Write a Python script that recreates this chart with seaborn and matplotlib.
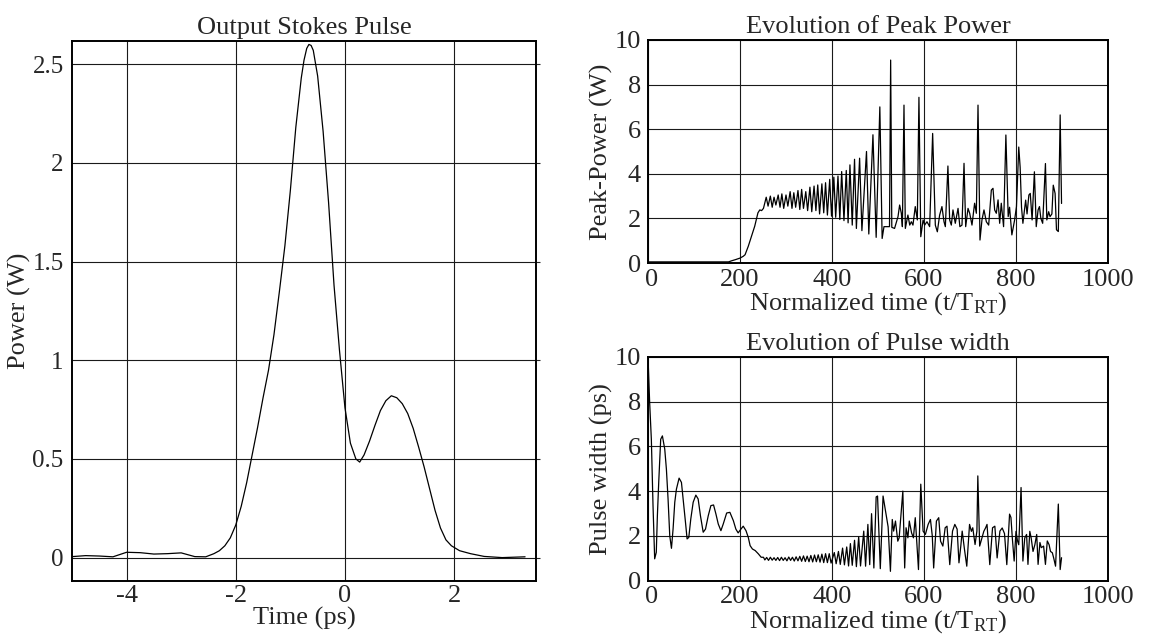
import numpy as np
import pandas as pd
import matplotlib
matplotlib.use("Agg")
import matplotlib.pyplot as plt
import matplotlib.transforms as mtransforms
import seaborn as sns

# ---------------- data ----------------
# Output Stokes pulse (time in ps, power in W)
pulse_t = [-5.0, -4.75, -4.5, -4.25, -4.0, -3.75, -3.5, -3.25, -3.0, -2.75,
           -2.55, -2.4, -2.3, -2.2, -2.1, -2.0, -1.9, -1.8, -1.7, -1.6,
           -1.5, -1.4, -1.3, -1.2, -1.1, -1.0, -0.9, -0.8, -0.75, -0.7,
           -0.66, -0.62, -0.58, -0.5, -0.4, -0.3, -0.2, -0.1, 0.0, 0.1,
           0.2, 0.27, 0.35, 0.45, 0.55, 0.65, 0.75, 0.85, 0.95, 1.05,
           1.15, 1.25, 1.35, 1.45, 1.55, 1.65, 1.75, 1.85, 1.95, 2.1,
           2.3, 2.55, 2.88, 3.3]
pulse_p = [0.005, 0.01, 0.008, 0.004, 0.027, 0.025, 0.018, 0.02, 0.024, 0.005,
           0.004, 0.02, 0.035, 0.06, 0.10, 0.165, 0.26, 0.38, 0.52, 0.66,
           0.81, 0.95, 1.13, 1.35, 1.58, 1.86, 2.18, 2.43, 2.52, 2.58,
           2.60, 2.595, 2.57, 2.44, 2.16, 1.80, 1.38, 1.05, 0.76, 0.58,
           0.50, 0.484, 0.52, 0.59, 0.67, 0.745, 0.795, 0.82, 0.81, 0.78,
           0.73, 0.655, 0.56, 0.46, 0.35, 0.24, 0.15, 0.09, 0.06, 0.035,
           0.02, 0.006, 0.0, 0.004]

# Evolution of peak power (normalized time, W)
peak_t = [0, 175, 182, 190, 200, 207, 211, 218, 225, 232, 239, 243, 247, 251,
          257, 261, 266, 270, 274, 278, 283, 287, 291, 295, 300, 304, 309, 313,
          317, 321, 326, 330, 334, 338, 343, 347, 352, 356, 361, 365, 369, 373,
          378, 382, 386, 390, 395, 399, 404, 408, 413, 417, 421, 426, 431, 435,
          439, 444, 449, 453, 460, 465, 475, 480, 489, 496, 504, 509, 513, 525,
          527.5, 530, 536, 543.5, 547, 550.7, 553, 556.5, 559.4, 565, 569, 572.5,
          576, 581, 585.5, 589, 593, 598, 601.4, 606.5, 612.3, 618.8, 624.6, 629,
          634, 639, 643.5, 646.4, 652, 655.8, 659.4, 663, 668, 674, 678, 682.6,
          687, 690.6, 695.7, 699.3, 704.3, 710, 713.8, 717.4, 721.7, 726, 730.4,
          735.5, 740.6, 746.4, 750, 753.6, 757.2, 761, 764.5, 768, 773, 778,
          783, 786, 791, 797, 801, 806, 809, 812, 815, 821, 824, 828, 831, 835,
          840, 844, 848, 851, 854, 858, 864, 867, 871, 874, 878, 881, 885, 888,
          892, 896, 899]
peak_p = [0.05, 0.05, 0.1, 0.15, 0.22, 0.3, 0.37, 0.75, 1.2, 1.65, 2.25, 2.38, 2.35, 2.45,
          2.95, 2.55, 3.0, 2.5, 2.95, 2.6, 3.05, 2.5, 3.1, 2.45, 3.05, 2.55, 3.2, 2.45,
          3.15, 2.5, 3.25, 2.4, 3.3, 2.45, 3.2, 2.35, 3.4, 2.3, 3.45, 2.35, 3.5, 2.2,
          3.55, 2.25, 3.6, 2.15, 3.75, 2.1, 3.85, 2.05, 3.9, 1.95, 4.1, 1.9, 4.15, 1.8,
          4.4, 1.7, 4.65, 1.55, 4.7, 1.45, 5.0, 1.3, 5.75, 1.15, 7.0, 1.1, 1.63, 1.63,
          9.1, 1.6, 1.55, 2.08, 2.6, 2.23, 1.63, 7.08, 1.55, 2.15, 1.7, 1.85,
          1.7, 2.53, 1.93, 7.43, 1.18, 1.93, 1.7, 1.85, 1.63, 5.81, 1.7, 1.4,
          2.15, 2.53, 1.85, 1.63, 4.35, 1.93, 1.7, 2.38, 1.78, 2.45, 1.63, 1.7,
          4.47, 1.63, 2.45, 2.23, 1.7, 2.68, 2.23, 7.08, 1.03, 1.93, 2.38,
          1.85, 1.7, 3.27, 3.35, 2.38, 2.23, 2.83, 1.78, 2.68, 1.63, 5.74,
          2.08, 2.5, 1.26, 1.93, 2.53, 5.2, 4.3, 2.5, 1.78, 2.82, 2.2, 3.05, 3.12, 1.93,
          4.09, 1.63, 2.38, 2.53, 2.0, 1.78, 4.46, 1.93, 2.3, 2.08, 2.2, 3.49, 3.12, 1.49,
          1.41, 6.64, 2.67]

# Evolution of pulse width (normalized time, ps)
width_t = [0, 3.6, 7.3, 10.9, 14.5, 18, 20.4, 23.3, 27.6, 31.3, 36.4, 40, 43.6, 47.3,
           51, 54.5, 58.2, 61.8, 67.6, 72.7, 76.4, 81.5, 85, 88.7, 93, 98.2, 104, 109,
           114, 120, 125, 131, 136.7, 142.5, 147.6, 152.7, 158.5, 163.6, 171, 178,
           185.5, 191, 196, 202, 207, 213, 218, 222, 227, 233, 240, 246, 251,
           254, 258, 262, 266, 270, 274, 278, 282, 286, 290, 294, 298, 302, 306,
           310, 314, 318, 322, 326, 330, 334, 338, 342, 346, 350, 354, 358, 362,
           366, 370, 374, 378, 382, 386, 390, 394, 398,
           405, 409, 414, 418, 423, 427, 432, 436, 440, 444, 449, 453, 458, 462,
           469, 473, 478, 482, 486, 491, 496, 499, 505, 511, 514, 518, 522, 527,
           531, 534, 538, 543, 546, 554, 558, 561, 565, 568, 573, 577, 581, 588,
           593, 598, 603, 609, 614, 618, 621, 627, 632, 636, 641, 646, 650, 656,
           662, 667, 672, 676, 680, 683, 688, 693, 699, 703, 706, 711, 715, 717,
           721, 725, 730, 734, 737, 743, 749, 754, 759, 765, 770, 775, 780, 786,
           789, 792, 796, 800, 803, 806, 811, 815, 819, 823, 826, 830, 833, 837,
           841, 845, 848, 852, 855, 860, 864, 868, 872, 875, 879, 882, 886, 892,
           896, 899]
width_p = [10.0, 7.96, 6.3, 3.35, 0.97, 1.26, 2.9, 4.39, 6.32, 6.47, 5.88, 4.98, 3.65, 2.0,
           1.44, 2.3, 3.5, 4.09, 4.58, 4.39, 3.65, 2.6, 1.86, 1.93, 2.75, 3.5, 3.82, 3.65,
           2.9, 2.16, 2.3, 2.9, 3.35, 3.38, 2.98, 2.53, 2.23, 2.53, 3.02, 3.05,
           2.68, 2.3, 2.13, 2.3, 2.43, 2.23, 1.93, 1.56, 1.41, 1.34, 1.19, 1.04, 1.04,
           0.92, 1.03, 0.9, 1.04, 0.91, 1.02, 0.9, 1.03, 0.89, 1.04, 0.9, 1.02, 0.88, 1.05,
           0.9, 1.04, 0.87, 1.06, 0.88, 1.08, 0.86, 1.1, 0.85, 1.09, 0.84, 1.12, 0.83, 1.14,
           0.84, 1.15, 0.82, 1.18, 0.8, 1.2, 0.8, 1.2, 0.78,
           1.25, 0.75, 1.3, 0.72, 1.45, 0.7, 1.5, 0.65, 1.65, 0.68, 1.8, 0.62, 1.95, 0.65,
           2.21, 0.64, 2.51, 0.71, 2.99, 0.56, 3.74, 3.78, 0.53, 3.78, 3.4, 2.9, 2.4, 0.41,
           2.73, 2.21, 2.66, 1.76, 1.91, 4.0, 0.56, 2.36, 1.91, 2.66, 2.13, 1.91, 2.81, 0.49,
           4.31, 2.21, 2.06, 2.51, 2.73, 2.0, 0.56, 2.66, 2.81, 1.76, 1.54, 2.36, 2.43, 0.71,
           2.21, 2.51, 2.3, 0.79, 1.54, 2.21, 1.39, 0.64, 2.51, 2.2, 2.36, 1.61, 2.21, 4.68,
           1.54, 1.84, 2.2, 2.36, 2.51, 0.71, 2.36, 2.43, 1.01, 2.21, 2.35, 2.1, 0.71, 2.97,
           2.82, 1.9, 0.87, 2.2, 1.8, 1.6, 4.16, 0.87, 1.9, 2.06, 0.72, 2.2, 1.9, 1.3,
           1.6, 2.06, 0.72, 1.7, 1.47, 1.54, 0.72, 1.77, 1.6, 1.3, 1.24, 1.0, 0.64, 3.42,
           0.49, 1.02]

pulse_df = pd.DataFrame({"t": pulse_t, "p": pulse_p})
peak_df = pd.DataFrame({"t": peak_t, "p": peak_p})
width_df = pd.DataFrame({"t": width_t, "p": width_p})

# ---------------- style ----------------
sns.set_style("white")
plt.rcParams["font.family"] = ["Liberation Serif", "DejaVu Serif"]
plt.rcParams["mathtext.fontset"] = "custom"
plt.rcParams["mathtext.rm"] = "Liberation Serif"
plt.rcParams["mathtext.it"] = "Liberation Serif:italic"

TICK_FS = 19
LABEL_FS = 19
TITLE_FS = 19
GRID_KW = dict(color="#1a1a1a", linewidth=0.8)

W, H = 1154, 643
fig = plt.figure(figsize=(W / 100, H / 100), dpi=100)


def box(x0, y0, x1, y1):
    return [x0 / W, 1 - y1 / H, (x1 - x0) / W, (y1 - y0) / H]


ax1 = fig.add_axes(box(72, 40.5, 536, 580.7))
ax2 = fig.add_axes(box(648, 40, 1108, 263))
ax3 = fig.add_axes(box(648, 357, 1108, 580.5))

sns.lineplot(data=pulse_df, x="t", y="p", ax=ax1, color="black", linewidth=0.9,
             estimator=None, sort=False)
sns.lineplot(data=peak_df, x="t", y="p", ax=ax2, color="black", linewidth=0.9,
             estimator=None, sort=False)
sns.lineplot(data=width_df, x="t", y="p", ax=ax3, color="black", linewidth=0.9,
             estimator=None, sort=False)

# left axes
ax1.set_xlim(-5, 3.5)
ax1.set_ylim(-0.117, 2.62)
ax1.set_xticks([-4, -2, 0, 2])
ax1.set_yticks([0, 0.5, 1, 1.5, 2, 2.5])
ax1.set_yticklabels(["0", "0.5", "1", "1.5", "2", "2.5"])
ax1.set_xticklabels(["-4", "-2", "0", "2"])
ax1.set_title("Output Stokes Pulse", fontsize=TITLE_FS, pad=5)
ax1.set_xlabel("Time (ps)", fontsize=LABEL_FS, labelpad=0)
ax1.set_ylabel("Power (W)", fontsize=LABEL_FS, labelpad=1)
ax1.tick_params(axis="y", which="major", right=True, left=False, direction="out",
                length=3, labelsize=18, pad=3)
ax1.tick_params(axis="x", length=0, labelsize=TICK_FS, pad=3)

# right axes
for ax, ylab in ((ax2, "Peak-Power (W)"), (ax3, "Pulse width (ps)")):
    ax.set_xlim(0, 1000)
    ax.set_ylim(0, 10)
    ax.set_xticks([0, 200, 400, 600, 800, 1000])
    ax.set_yticks([0, 2, 4, 6, 8, 10])
    ax.set_xlabel(r"Normalized time (t/T$_{\mathrm{RT}}$)", fontsize=LABEL_FS, labelpad=0)
    ax.set_ylabel(ylab, fontsize=LABEL_FS, labelpad=1)
    ax.tick_params(axis="x", length=0, labelsize=TICK_FS, pad=4)
    ax.tick_params(axis="y", length=0, labelsize=TICK_FS, pad=5)
    # nudge the x "0" label a little to the right so it clears the y "0"
    lab0 = ax.xaxis.get_major_ticks()[0].label1
    lab0.set_transform(lab0.get_transform() +
                       mtransforms.ScaledTranslation(4 / 100, 0, fig.dpi_scale_trans))

ax2.set_title("Evolution of Peak Power", fontsize=TITLE_FS, pad=5)
ax3.set_title("Evolution of Pulse width", fontsize=TITLE_FS, pad=5)

for ax in (ax1, ax2, ax3):
    ax.grid(True, **GRID_KW)
    ax.set_axisbelow(True)
    for s in ax.spines.values():
        s.set_color("black")
        s.set_linewidth(1.4)
        s.set_visible(True)

fig.savefig("out.png", dpi=100, facecolor="white")
